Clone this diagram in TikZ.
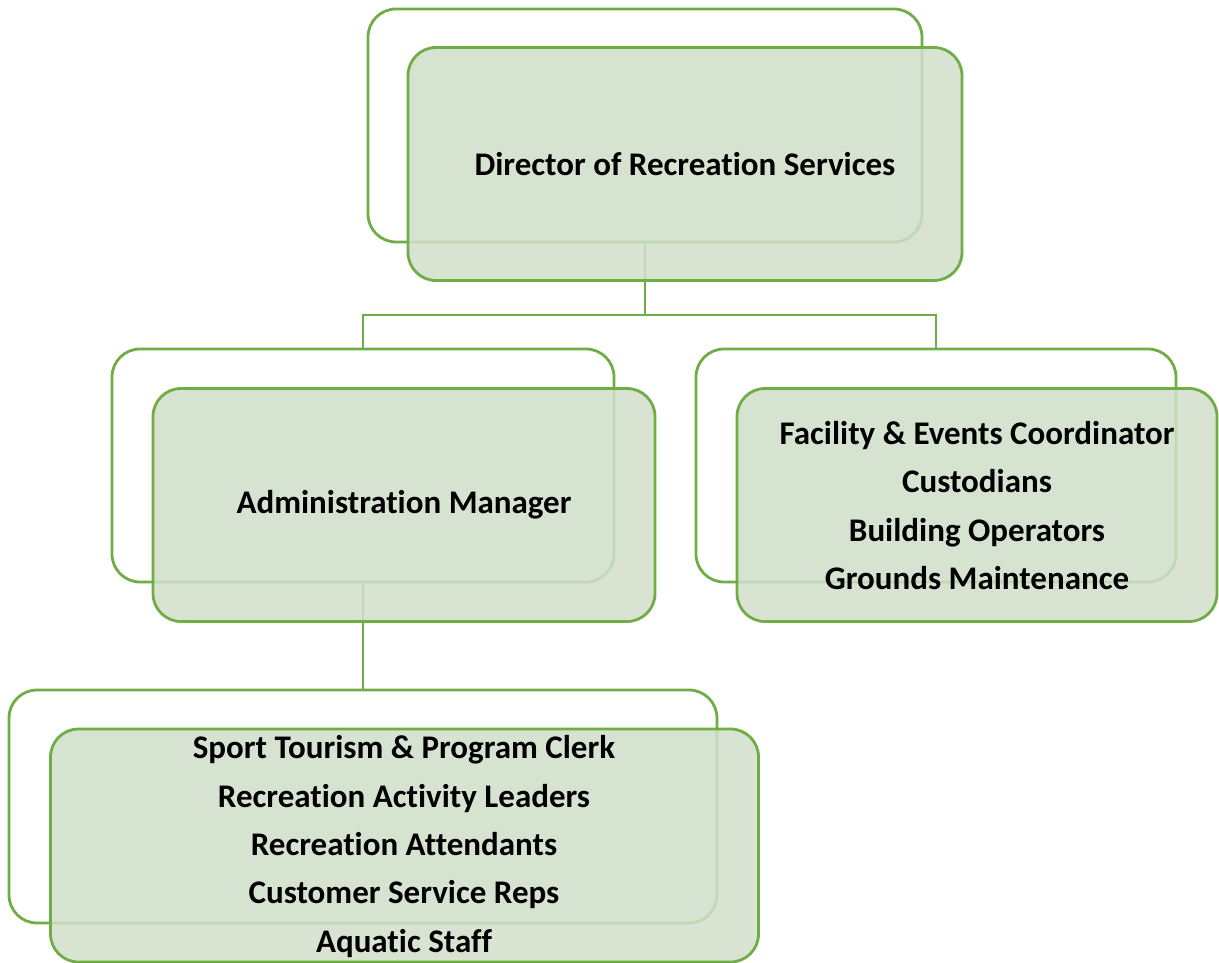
\documentclass[tikz,border=0pt]{standalone}
\usepackage{fontspec}
\setmainfont[Ligatures={NoCommon}]{Carlito}
\definecolor{edgegreen}{HTML}{70AD47}
\definecolor{boxfill}{RGB}{209,223,201}
\tikzset{
  x=1pt,y=-1pt,
  backbox/.style={draw=edgegreen,line width=2.8pt,rounded corners=28pt,fill=white,inner sep=0pt},
  frontbox/.style={draw=edgegreen,line width=2.8pt,rounded corners=28pt,fill=boxfill,fill opacity=0.85,text opacity=1,inner sep=0pt},
  label/.style={font=\fontsize{33}{48.3}\selectfont\bfseries,align=center,text=black,inner sep=0pt},
  conn/.style={draw=edgegreen,line width=2.8pt}
}
\begin{document}
\begin{tikzpicture}
\useasboundingbox (0,0) rectangle (1219,963);
% back boxes
\node[backbox,minimum width=554pt,minimum height=233pt] (dirB) at (645,125.5) {};
\node[backbox,minimum width=502pt,minimum height=233pt] (admB) at (363,465.5) {};
\node[backbox,minimum width=480pt,minimum height=233pt] (facB) at (936,465.5) {};
\node[backbox,minimum width=708pt,minimum height=233pt] (stfB) at (363,806.5) {};
% connectors
\coordinate (split) at (645,315);
\draw[conn] (dirB.south) -- (split);
\draw[conn] (split) -| (admB.north);
\draw[conn] (split) -| (facB.north);
\draw[conn] (admB.south) -- (stfB.north);
% front boxes
\node[frontbox,minimum width=554pt,minimum height=233pt] (dirF) at (685,164) {};
\node[frontbox,minimum width=502pt,minimum height=233pt] (admF) at (404,505) {};
\node[frontbox,minimum width=480pt,minimum height=233pt] (facF) at (977,505) {};
\node[frontbox,minimum width=708pt,minimum height=233pt] (stfF) at (404.5,845.5) {};
% labels
\node[label] (dirT) at (dirF.center) {Director of Recreation Services};
\node[label] (admT) at (admF.center) {Administration Manager};
\node[label] (facT) at (977,505.5) {Facility \& Events Coordinator\\Custodians\\Building Operators\\Grounds Maintenance};
\node[label] (stfT) at (404,846.5) {Sport Tourism \& Program Clerk\\Recreation Activity Leaders\\Recreation Attendants\\Customer Service Reps\\Aquatic Staff};
\end{tikzpicture}
\end{document}
